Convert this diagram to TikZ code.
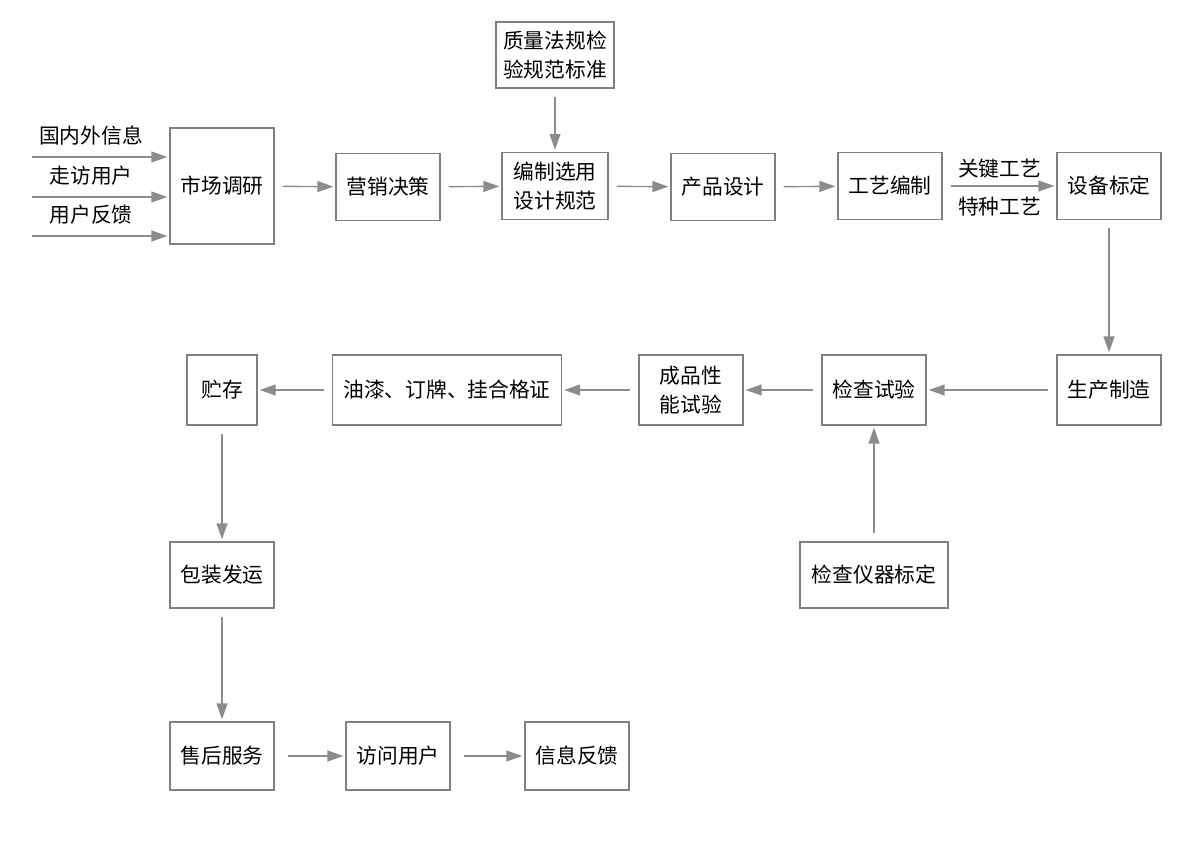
\documentclass[tikz,border=0pt]{standalone}
\usepackage{fontspec}
\newfontfamily\cjk{Noto Sans CJK SC}
\usetikzlibrary{arrows.meta, positioning}
\definecolor{boxgray}{HTML}{808080}
\definecolor{arrgray}{HTML}{8C8C8C}
\tikzset{
  box/.style  ={draw=boxgray, line width=0.8pt, align=center, fill=white,
                minimum height=1.34cm, minimum width=2.08cm, inner sep=2pt,
                font=\cjk\fontsize{11.8}{16.5}\selectfont},
  arr/.style  ={-{Triangle[length=3.2mm, width=2.2mm]}, draw=arrgray,
                line width=0.8pt, shorten <=0.16cm, shorten >=0.04cm},
  lbl/.style  ={font=\cjk\fontsize{11.8}{14}\selectfont, inner sep=1pt},
}

\begin{document}
\begin{tikzpicture}[x=0.02cm, y=-0.02cm]
  \useasboundingbox (0,0) rectangle (1200,847);

  % top row
  \node[box, minimum height=2.32cm]         (scdy) at (222,186) {市场调研};
  \node[box]                                (yxjc) at (388,187) {营销决策};
  \node[box, minimum width=2.12cm]          (bzxy) at (555,186) {编制选用\\设计规范};
  \node[box, minimum width=2.36cm, minimum height=1.32cm]
                                            (zlfg) at (555,55)  {质量法规检\\验规范标准};
  \node[box]                                (cpsj) at (723,187) {产品设计};
  \node[box]                                (gybz) at (890,186) {工艺编制};
  \node[box]                                (sbbd) at (1109,186) {设备标定};

  % inputs
  \coordinate (in1) at (32,157);
  \coordinate (in2) at (32,197);
  \coordinate (in3) at (32,236);
  \draw[arr, shorten <=0cm] (in1) -- (in1 -| scdy.west);
  \draw[arr, shorten <=0cm] (in2) -- (in2 -| scdy.west);
  \draw[arr, shorten <=0cm] (in3) -- (in3 -| scdy.west);
  \node[lbl] (gnw) at (91,136) {国内外信息};
  \node[lbl] (zfyh) at (91,176) {走访用户};
  \node[lbl] (yhfk) at (91,215) {用户反馈};

  \draw[arr] (scdy) -- (yxjc);
  \draw[arr] (yxjc) -- (bzxy);
  \draw[arr] (zlfg) -- (bzxy);
  \draw[arr] (bzxy) -- (cpsj);
  \draw[arr] (cpsj) -- (gybz);
  \draw[arr] (gybz) -- node[lbl, above=3pt] (gjgy) {关键工艺}
                       node[lbl, below=5pt] (tzgy) {特种工艺} (sbbd);

  % middle row
  \node[box, minimum height=1.4cm]          (sczz) at (1109,390) {生产制造};
  \node[box, minimum height=1.4cm]          (jcsy) at (874,390)  {检查试验};
  \node[box, minimum width=2.96cm, minimum height=1.32cm]
                                            (jcyq) at (874,575)  {检查仪器标定};
  \node[box, minimum height=1.4cm]          (cpxn) at (691,390)  {成品性\\能试验};
  \node[box, minimum width=4.58cm, minimum height=1.4cm]
                                            (yqdp) at (447,390)  {油漆、订牌、挂合格证};
  \node[box, minimum width=1.4cm, minimum height=1.4cm]
                                            (zc)   at (222,390)  {贮存};

  \draw[arr] (sbbd) -- (sczz);
  \draw[arr] (sczz) -- (jcsy);
  \draw[arr] (jcyq) -- (jcsy);
  \draw[arr] (jcsy) -- (cpxn);
  \draw[arr] (cpxn) -- (yqdp);
  \draw[arr] (yqdp) -- (zc);

  % bottom
  \node[box, minimum height=1.32cm]         (bzfy) at (222,575) {包装发运};
  \node[box, minimum height=1.36cm]         (shfw) at (222,756) {售后服务};
  \node[box, minimum height=1.36cm]         (fwyh) at (398,756) {访问用户};
  \node[box, minimum height=1.36cm]         (xxfk) at (577,756) {信息反馈};

  \draw[arr] (zc) -- (bzfy);
  \draw[arr] (bzfy) -- (shfw);
  \draw[arr, shorten <=0.26cm] (shfw) -- (fwyh);
  \draw[arr, shorten <=0.26cm] (fwyh) -- (xxfk);
\end{tikzpicture}
\end{document}
